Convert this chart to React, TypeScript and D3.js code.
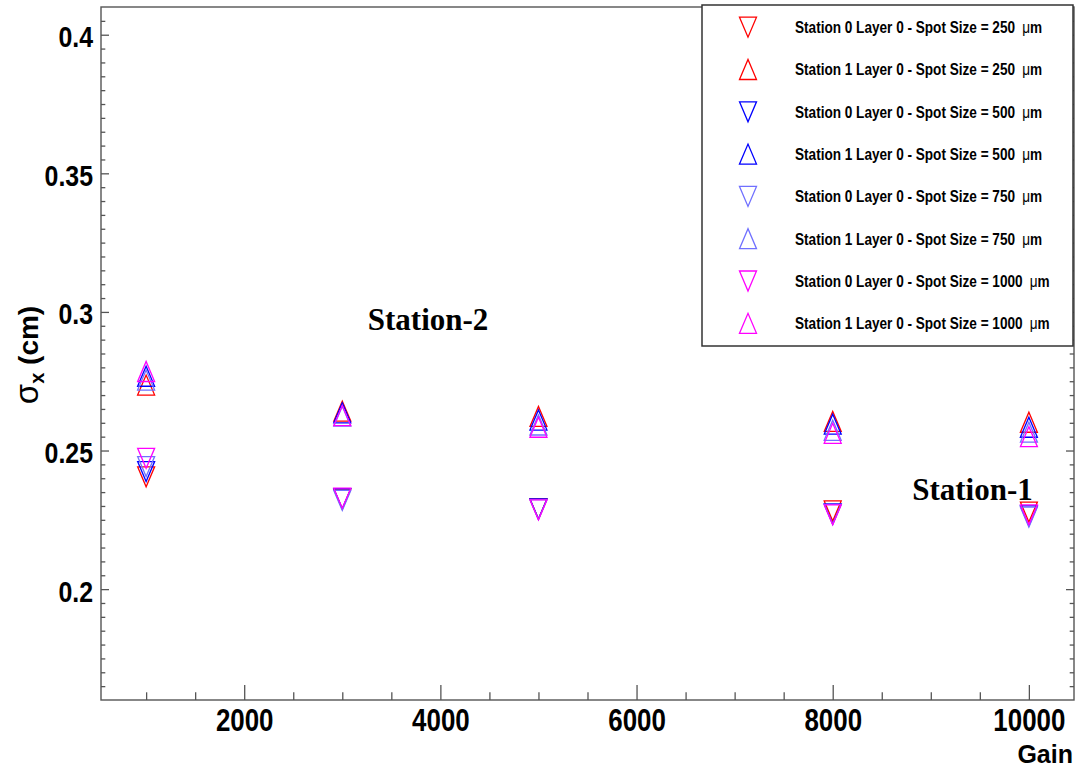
import { useEffect, useRef } from 'react';
import * as d3 from 'd3';

// gain values (x) and sigma_x in cm (y)
const gains = [1000, 3000, 5000, 8000, 10000];
const spotSizes = [250, 500, 750, 1000];

const st0Spot250 = [0.2405, 0.2325, 0.2289, 0.2282, 0.2278];
const st1Spot250 = [0.2736, 0.2642, 0.2623, 0.2605, 0.2602];
const st0Spot500 = [0.2424, 0.2326, 0.2289, 0.2271, 0.2264];
const st1Spot500 = [0.2768, 0.2636, 0.2610, 0.2595, 0.2584];
const st0Spot750 = [0.2442, 0.2320, 0.2287, 0.2270, 0.2260];
const st1Spot750 = [0.2754, 0.2624, 0.2592, 0.2573, 0.2566];
const st0Spot1000 = [0.2472, 0.2328, 0.2286, 0.2268, 0.2268];
const st1Spot1000 = [0.2785, 0.2626, 0.2584, 0.2562, 0.2550];

const spotColors = ['#ff0000', '#0000ff', '#7070ff', '#ff00ff'];

const xMajorTicks = [2000, 4000, 6000, 8000, 10000];
const yMajorTicks = [0.2, 0.25, 0.3, 0.35, 0.4];

const series = [
  { station: 0, spot: 0, values: st0Spot250 },
  { station: 1, spot: 0, values: st1Spot250 },
  { station: 0, spot: 1, values: st0Spot500 },
  { station: 1, spot: 1, values: st1Spot500 },
  { station: 0, spot: 2, values: st0Spot750 },
  { station: 1, spot: 2, values: st1Spot750 },
  { station: 0, spot: 3, values: st0Spot1000 },
  { station: 1, spot: 3, values: st1Spot1000 },
];

const width = 1079;
const height = 768;
const margin = { left: 101, right: 5, top: 7, bottom: 68 };

function triangle(cx: number, cy: number, up: boolean) {
  const p = d3.path();
  const hw = 8.5;
  const hh = 10;
  const s = up ? 1 : -1;
  p.moveTo(cx - hw, cy + s * hh);
  p.lineTo(cx, cy - s * hh);
  p.lineTo(cx + hw, cy + s * hh);
  p.closePath();
  return p.toString();
}

function SigmaChart() {
  const svgRef = useRef<SVGSVGElement>(null);

  useEffect(() => {
    if (svgRef.current === null) return;
    const svg = d3.select(svgRef.current);
    svg.selectAll('*').remove();

    const x0 = margin.left;
    const x1 = width - margin.right;
    const y0 = height - margin.bottom;
    const y1 = margin.top;

    const x = d3.scaleLinear().domain([540, 10460]).range([x0, x1]);
    const y = d3.scaleLinear().domain([0.16, 0.41]).range([y0, y1]);

    const axisColor = '#555';
    const tickFont = 'Liberation Sans, Arial, sans-serif';

    // frame
    svg.append('rect')
      .attr('x', x0).attr('y', y1)
      .attr('width', x1 - x0).attr('height', y0 - y1)
      .attr('fill', 'none').attr('stroke', axisColor).attr('stroke-width', 1.4);

    const xMinor = d3.range(1000, 10001, 500).filter((v) => !xMajorTicks.includes(v));
    const yMinor = d3.range(33, 82).filter((i) => i % 10 !== 0).map((i) => i * 0.005);

    // x axis
    const xAxis = svg.append('g').attr('transform', `translate(0, ${y0})`)
      .call(d3.axisBottom(x).tickValues(xMajorTicks).tickSize(-15).tickSizeOuter(0)
        .tickPadding(8).tickFormat(d3.format('d')));
    xAxis.select('.domain').remove();
    xAxis.selectAll('line').attr('stroke', axisColor).attr('stroke-width', 1.3);
    xAxis.selectAll('text')
      .attr('font-family', tickFont).attr('font-weight', 'bold').attr('font-size', 32)
      .attr('fill', '#000').attr('transform', 'scale(0.81,1)');

    const xAxisMinor = svg.append('g').attr('transform', `translate(0, ${y0})`)
      .call(d3.axisBottom(x).tickValues(xMinor).tickSize(-7.7).tickSizeOuter(0).tickFormat(() => ''));
    xAxisMinor.select('.domain').remove();
    xAxisMinor.selectAll('line').attr('stroke', axisColor).attr('stroke-width', 1.3);

    // y axis (left)
    const yAxis = svg.append('g').attr('transform', `translate(${x0}, 0)`)
      .call(d3.axisLeft(y).tickValues(yMajorTicks).tickSize(-8).tickSizeOuter(0)
        .tickPadding(9.6).tickFormat((d: any) => String(d)));
    yAxis.select('.domain').remove();
    yAxis.selectAll('line').attr('stroke', axisColor).attr('stroke-width', 1.3);
    yAxis.selectAll('text')
      .attr('font-family', tickFont).attr('font-weight', 'bold').attr('font-size', 30)
      .attr('fill', '#000').attr('dy', '0.4em').attr('transform', 'scale(0.83,1)');

    const yAxisMinor = svg.append('g').attr('transform', `translate(${x0}, 0)`)
      .call(d3.axisLeft(y).tickValues(yMinor).tickSize(-4.3).tickSizeOuter(0).tickFormat(() => ''));
    yAxisMinor.select('.domain').remove();
    yAxisMinor.selectAll('line').attr('stroke', axisColor).attr('stroke-width', 1.3);

    // y axis (right, ticks only)
    const yRight = svg.append('g').attr('transform', `translate(${x1}, 0)`)
      .call(d3.axisRight(y).tickValues(yMajorTicks).tickSize(-8).tickSizeOuter(0).tickFormat(() => ''));
    yRight.select('.domain').remove();
    yRight.selectAll('line').attr('stroke', axisColor).attr('stroke-width', 1.3);
    const yRightMinor = svg.append('g').attr('transform', `translate(${x1}, 0)`)
      .call(d3.axisRight(y).tickValues(yMinor).tickSize(-4.3).tickSizeOuter(0).tickFormat(() => ''));
    yRightMinor.select('.domain').remove();
    yRightMinor.selectAll('line').attr('stroke', axisColor).attr('stroke-width', 1.3);

    // axis titles
    svg.append('text')
      .attr('x', x1 - 1).attr('y', 763)
      .attr('text-anchor', 'end')
      .attr('font-family', tickFont).attr('font-weight', 'bold').attr('font-size', 25)
      .text('Gain');

    const yTitle = svg.append('text')
      .attr('transform', 'translate(38, 355) rotate(-90)')
      .attr('text-anchor', 'middle')
      .attr('font-family', tickFont).attr('font-size', 28);
    yTitle.append('tspan').attr('font-size', 33).text('σ');
    yTitle.append('tspan').attr('font-weight', 'bold').attr('font-size', 20).attr('dy', 6).text('x');
    yTitle.append('tspan').attr('font-weight', 'bold').attr('dy', -6).text(' (cm)');

    // markers
    const marks = svg.append('g');
    series.forEach((s) => {
      marks.selectAll(null)
        .data(s.values)
        .enter()
        .append('path')
        .attr('d', (v: number, i: number) => triangle(x(gains[i]), y(v), s.station === 1))
        .attr('fill', 'none')
        .attr('stroke', spotColors[s.spot])
        .attr('stroke-width', 1.3)
        .attr('stroke-linejoin', 'miter');
    });

    // annotations
    const annot = [
      { text: 'Station-2', gx: 3260, v: 0.2935 },
      { text: 'Station-1', gx: 8810, v: 0.2322 },
    ];
    svg.selectAll(null)
      .data(annot)
      .enter()
      .append('text')
      .attr('x', (d: any) => x(d.gx))
      .attr('y', (d: any) => y(d.v))
      .attr('font-family', 'Liberation Serif, Times New Roman, serif')
      .attr('font-weight', 'bold')
      .attr('font-size', 31)
      .text((d: any) => d.text);

    // legend
    const legend = svg.append('g');
    legend.append('rect')
      .attr('x', 702).attr('y', 5).attr('width', 371).attr('height', 341)
      .attr('fill', '#fff').attr('stroke', '#333').attr('stroke-width', 1.5);
    series.forEach((s, i) => {
      const ry = 27.2 + i * 42.3;
      legend.append('path')
        .attr('d', triangle(748, ry, s.station === 1))
        .attr('fill', 'none')
        .attr('stroke', spotColors[s.spot])
        .attr('stroke-width', 1.3);
      const t = legend.append('text')
        .attr('transform', `translate(795, ${ry + 5.8}) scale(0.85,1)`)
        .attr('font-family', tickFont).attr('font-weight', 'bold').attr('font-size', 16)
        .attr('xml:space', 'preserve');
      t.append('tspan').text(`Station ${s.station} Layer 0 - Spot Size = ${spotSizes[s.spot]} `);
      t.append('tspan').attr('dx', 4).attr('font-weight', 'normal').text('μ');
      t.append('tspan').text('m');
    });
  }, [svgRef]);

  return (
    <svg
      ref={svgRef}
      width={width}
      height={height}
      style={{ position: 'absolute', left: 0, top: 0, background: '#fff' }}
    />
  );
}

export default function App() {
  return <SigmaChart />;
}
